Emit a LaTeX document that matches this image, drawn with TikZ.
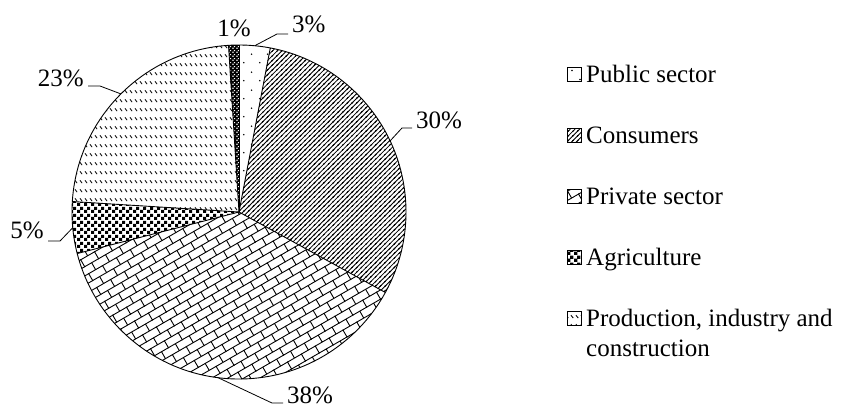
\documentclass[tikz,border=0pt]{standalone}
\usepackage{fontspec}
\setmainfont{Liberation Serif}
\usetikzlibrary{patterns,patterns.meta}

\tikzdeclarepattern{
  name=pubdots, type=uncolored,
  bottom left={(0pt,0pt)}, top right={(16pt,18pt)},
  tile size={(16pt,18pt)},
  code={
    \tikzset{x=1pt,y=1pt}
    \fill (4,4.5) circle[radius=0.9];
    \fill (12,13.5) circle[radius=0.9];
  }
}
\tikzdeclarepattern{
  name=conslines, type=uncolored,
  bottom left={(-1pt,-1pt)}, top right={(4.7pt,4.7pt)},
  tile size={(4.7pt,4.7pt)},
  code={
    \tikzset{x=1pt,y=1pt}
    \draw[line width=0.8pt] (-1,-1) -- (5.7,5.7);
    \draw[line width=0.8pt] (-1,3.7) -- (1,5.7);
    \draw[line width=0.8pt] (3.7,-1) -- (5.7,1);
  }
}
\tikzdeclarepattern{
  name=privbricks, type=uncolored,
  bottom left={(-1pt,-1pt)}, top right={(17pt,17pt)},
  tile size={(16pt,16pt)},
  tile transformation={rotate=30},
  code={
    \tikzset{x=1pt,y=1pt}
    \draw[line width=0.9pt] (-0.5,0) -- (16.5,0) (-0.5,8) -- (16.5,8)
      (0,0) -- (0,8) (8,8) -- (8,16);
  }
}
\tikzdeclarepattern{
  name=agrisq, type=uncolored,
  bottom left={(0pt,0pt)}, top right={(7pt,7pt)},
  tile size={(7pt,7pt)},
  code={
    \tikzset{x=1pt,y=1pt}
    \fill (0,0) rectangle (3.6,3.6);
    \fill (3.5,3.5) rectangle (7,7);
  }
}
\tikzdeclarepattern{
  name=proddash, type=uncolored,
  bottom left={(0pt,0pt)}, top right={(4.6pt,9pt)},
  tile size={(4.6pt,9pt)},
  code={
    \tikzset{x=1pt,y=1pt}
    \draw[line width=0.9pt] (1,4) -- (3.4,1);
  }
}
\tikzdeclarepattern{
  name=onecheck, type=uncolored,
  bottom left={(0pt,0pt)}, top right={(4pt,4pt)},
  tile size={(4pt,4pt)},
  code={
    \tikzset{x=1pt,y=1pt}
    \fill (0.3,0.3) rectangle (1.8,1.8);
    \fill (2.3,2.3) rectangle (3.6,3.6);
  }
}

\begin{document}
\begin{tikzpicture}[x=1pt,y=1pt,
  lbl/.style={inner xsep=4pt,inner ysep=0pt,font=\fontsize{25}{30}\selectfont},
  legtext/.style={inner sep=0pt,anchor=base west,align=left,font=\fontsize{25}{30}\selectfont},
  legbox/.style={draw,line width=0.8pt,minimum size=14pt,inner sep=0pt},
  edge/.style={line width=0.9pt},
  leader/.style={line width=0.8pt}]
\useasboundingbox (0,0) rectangle (851,-408);

\coordinate (C) at (239,-212);
\def\R{167}

% slices
\fill[pattern=pubdots] (C) -- ++(90:\R) arc[start angle=90,end angle=79.2,radius=\R] -- cycle;
\fill[pattern=conslines] (C) -- ++(79.2:\R) arc[start angle=79.2,end angle=-28.8,radius=\R] -- cycle;
\fill[pattern=privbricks] (C) -- ++(-28.8:\R) arc[start angle=-28.8,end angle=-165.6,radius=\R] -- cycle;
\fill[pattern=agrisq] (C) -- ++(-165.6:\R) arc[start angle=-165.6,end angle=-183.6,radius=\R] -- cycle;
\fill[pattern=proddash] (C) -- ++(-183.6:\R) arc[start angle=-183.6,end angle=-266.4,radius=\R] -- cycle;
\fill[black] (C) -- ++(-266.4:\R) arc[start angle=-266.4,end angle=-270,radius=\R] -- cycle;
\fill[pattern=onecheck,pattern color=white] (C) -- ++(-266.4:\R) arc[start angle=-266.4,end angle=-270,radius=\R] -- cycle;

% outlines
\draw[edge] (C) circle[radius=\R];
\foreach \a in {90,79.2,-28.8,-165.6,-183.6,-266.4}
  \draw[edge] (C) -- ++(\a:\R);

% arc midpoints
\path (C) ++(84.6:\R) coordinate (m3);
\path (C) ++(25.2:\R) coordinate (m30);
\path (C) ++(-97.2:\R) coordinate (m38);
\path (C) ++(-174.6:\R) coordinate (m5);
\path (C) ++(135:\R) coordinate (m23);

% kinks
\coordinate (k3) at (277,-34);
\coordinate (k30) at (402,-128);
\coordinate (k38) at (272,-403);
\coordinate (k5) at (60,-241);
\coordinate (k23) at (100,-86);

% labels
\node[lbl,anchor=base] (t1) at (234,-36) {1\%};
\node[lbl,anchor=base west] (t3) at (288,-32) {3\%};
\node[lbl,anchor=base west] (t30) at (412,-128) {30\%};
\node[lbl,anchor=base west] (t38) at (283,-403) {38\%};
\node[lbl,anchor=base east] (t5) at (48,-238) {5\%};
\node[lbl,anchor=base east] (t23) at (88,-86) {23\%};

% leaders
\draw[leader] (m3) -- (k3) -- (k3 -| t3.west);
\draw[leader] (m30) -- (k30) -- (k30 -| t30.west);
\draw[leader] (m38) -- (k38) -- (k38 -| t38.west);
\draw[leader] (m5) -- (k5) -- (k5 -| t5.east);
\draw[leader] (m23) -- (k23) -- (k23 -| t23.east);

% legend
\node[legbox,pattern=pubdots] (b1) at (574,-74) {};
\node[legbox,pattern=conslines] (b2) at (574,-135) {};
\node[legbox,pattern=privbricks] (b3) at (574,-196) {};
\node[legbox,pattern=agrisq] (b4) at (574,-257) {};
\node[legbox,pattern=proddash] (b5) at (574,-318) {};

\node[legtext] (l1) at (586,-82) {Public sector};
\node[legtext] (l2) at (586,-143) {Consumers};
\node[legtext] (l3) at (586,-204) {Private sector};
\node[legtext] (l4) at (586,-265) {Agriculture};
\node[legtext] (l5) at (586,-356) {Production, industry and\\construction};
\end{tikzpicture}
\end{document}
